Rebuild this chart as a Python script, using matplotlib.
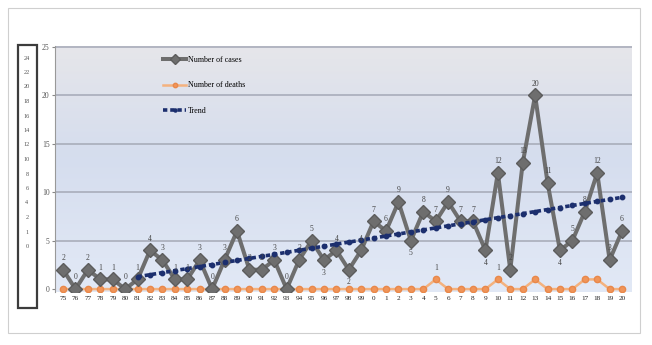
import numpy as np
import matplotlib
matplotlib.use("Agg")
import matplotlib.pyplot as plt
from matplotlib.colors import LinearSegmentedColormap
from matplotlib.patches import Rectangle

plt.rcParams["font.family"] = ["Liberation Serif", "DejaVu Serif"]

years = ["75", "76", "77", "78", "79", "80", "81", "82", "83", "84", "85", "86",
         "87", "88", "89", "90", "91", "92", "93", "94", "95", "96", "97", "98",
         "99", "0", "1", "2", "3", "4", "5", "6", "7", "8", "9", "10", "11", "12",
         "13", "14", "15", "16", "17", "18", "19", "20"]
cases = [2, 0, 2, 1, 1, 0, 1, 4, 3, 1, 1, 3, 0, 3, 6, 2, 2, 3, 0, 3, 5, 3, 4, 2,
         4, 7, 6, 9, 5, 8, 7, 9, 7, 7, 4, 12, 2, 13, 20, 11, 4, 5, 8, 12, 3, 6]
deaths = [0, 0, 0, 0, 0, 0, 0, 0, 0, 0, 0, 0, 0, 0, 0, 0, 0, 0, 0, 0, 0, 0, 0, 0,
          0, 0, 0, 0, 0, 0, 1, 0, 0, 0, 0, 1, 0, 0, 1, 0, 0, 0, 1, 1, 0, 0]
death_labels = ["5", "10"]          # years whose death counts are annotated
trend_from = "81"                   # linear trend fitted from this year onward
y_ticks = [0, 5, 10, 15, 20, 25]
box_labels = ["24", "22", "20", "18", "16", "14", "12", "10", "8", "6", "4",
              "2", "1", "0"]

x = np.arange(len(years))
cases = np.array(cases)
deaths = np.array(deaths)

fig = plt.figure(figsize=(6.52, 3.45), dpi=100)
ax = fig.add_axes([55 / 652, 1 - 292 / 345, 577 / 652, 246 / 345])

# plot-area gradient: grey at the top fading into pale blue
cmap = LinearSegmentedColormap.from_list(
    "bg", [(0.0, "#e6e6ea"), (0.45, "#d5ddee"), (1.0, "#e2e9f6")])
grad = np.linspace(0, 1, 256).reshape(-1, 1)
ax.imshow(grad, aspect="auto", cmap=cmap, extent=[0, 1, 0, 1],
          transform=ax.transAxes, zorder=0, origin="upper")

for t in y_ticks[1:]:
    ax.axhline(t, color="#a9adba", lw=1.2, zorder=1)

# cases
ax.plot(x, cases, color="#6e6e6e", lw=2.9, marker="D", ms=7.2,
        mec="#5c5c5c", mfc="#6e6e6e", zorder=4, label="Number of cases")

# deaths
ax.plot(x, deaths, color="#f4b27e", lw=1.8, marker="o", ms=4.5,
        mfc="#f0955a", mec="#e8884a", zorder=3, label="Number of deaths")

# linear trend on cases
start = years.index(trend_from)
coef = np.polyfit(x[start:], cases[start:], 1)
ax.plot(x[start:], np.polyval(coef, x[start:]), color="#1c2f6e", lw=2.6,
        ls=(0, (1.2, 0.8)), marker="o", ms=3.2, mfc="#1c2f6e", mec="#1c2f6e",
        zorder=5, label="Trend")

# value labels for cases
below = {"3", "9", "96", "98", "15"}
for xi, yr, v in zip(x, years, cases):
    if yr in below:
        ax.text(xi, v - 0.9, str(v), ha="center", va="top", fontsize=5.5,
                color="#444444", zorder=6)
    else:
        ax.text(xi, v + 0.8, str(v), ha="center", va="bottom", fontsize=5.5,
                color="#444444", zorder=6)
for yr in death_labels:
    i = years.index(yr)
    ax.text(x[i], deaths[i] + 0.8, str(deaths[i]), ha="center", va="bottom",
            fontsize=5.5, color="#444444", zorder=6)

ax.set_xlim(-0.65, 45.8)
ax.set_ylim(-0.3, 25.1)
ax.set_xticks(x)
ax.set_xticklabels(years, fontsize=5.2)
ax.set_yticks(y_ticks)
ax.set_yticklabels([str(t) for t in y_ticks], fontsize=5.5, color="#555555")
ax.tick_params(axis="x", length=0, pad=3, colors="#222222")
ax.tick_params(axis="y", length=2, pad=2, color="#888888")
for s in ["top", "right", "bottom"]:
    ax.spines[s].set_visible(False)
ax.spines["left"].set_color("#999999")
ax.spines["left"].set_linewidth(0.8)

ax.legend(loc="upper left", bbox_to_anchor=(0.175, 0.99), frameon=False,
          fontsize=5.8, labelspacing=2.2, handlelength=2.8, handletextpad=0.3,
          markerscale=0.7)

# outer frame and the boxed column at the far left
fig.add_artist(Rectangle((8 / 652, 1 - 333 / 345), 632 / 652, 325 / 345,
                         transform=fig.transFigure, fill=False,
                         ec="#cfcfcf", lw=0.8))
fig.add_artist(Rectangle((18 / 652, 1 - 308 / 345), 19 / 652, 263 / 345,
                         transform=fig.transFigure, fill=False,
                         ec="#3c3c3c", lw=1.6))
for k, lab in enumerate(box_labels):
    fig.text(27 / 652, 1 - (58 + k * 14.5) / 345, lab, ha="center",
             va="center", fontsize=4.5, color="#555555")

fig.savefig("out.png", dpi=100)
